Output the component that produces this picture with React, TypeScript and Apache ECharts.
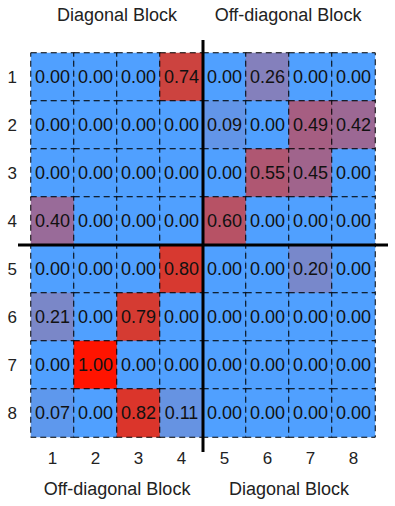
import React, { useEffect, useRef } from "react";
import * as echarts from "echarts";

const xLabels = ["1", "2", "3", "4", "5", "6", "7", "8"];
const yLabels = ["1", "2", "3", "4", "5", "6", "7", "8"];
const row1 = [0, 0, 0, 0.74, 0, 0.26, 0, 0];
const row2 = [0, 0, 0, 0, 0.09, 0, 0.49, 0.42];
const row3 = [0, 0, 0, 0, 0, 0.55, 0.45, 0];
const row4 = [0.4, 0, 0, 0, 0.6, 0, 0, 0];
const row5 = [0, 0, 0, 0.8, 0, 0, 0.2, 0];
const row6 = [0.21, 0, 0.79, 0, 0, 0, 0, 0];
const row7 = [0, 1.0, 0, 0, 0, 0, 0, 0];
const row8 = [0.07, 0, 0.82, 0.11, 0, 0, 0, 0];
const rows = [row1, row2, row3, row4, row5, row6, row7, row8];
const topTitles = ["Diagonal Block", "Off-diagonal Block"];
const bottomTitles = ["Off-diagonal Block", "Diagonal Block"];

const W = 395;
const H = 506;
const G = { left: 31, right: 20, top: 53, bottom: 69 };
const FONT = "'Liberation Sans', Arial, sans-serif";

export default function App() {
  const ref = useRef<HTMLDivElement>(null);
  useEffect(() => {
    if (!ref.current) return;
    const chart = echarts.init(ref.current, null, { renderer: "svg" });
    const data: any[] = [];
    rows.forEach((r, yi) => r.forEach((v, xi) => data.push([xi, yi, v])));
    const gw = W - G.left - G.right;
    const gh = H - G.top - G.bottom;
    const midX = G.left + gw / 2;
    const midY = G.top + gh / 2;
    const titleStyle = { fontSize: 18, fill: "#222", fontFamily: FONT, align: "center", verticalAlign: "middle" };
    chart.setOption({
      animation: false,
      grid: { left: G.left, right: G.right, top: G.top, bottom: G.bottom },
      xAxis: {
        type: "category",
        data: xLabels,
        axisLine: { show: false },
        axisTick: { show: false },
        axisLabel: { fontSize: 17, color: "#222", fontFamily: FONT, margin: 13 },
        splitLine: { show: false },
      },
      yAxis: {
        type: "category",
        data: yLabels,
        inverse: true,
        axisLine: { show: false },
        axisTick: { show: false },
        axisLabel: { fontSize: 17, color: "#222", fontFamily: FONT, margin: 14 },
        splitLine: { show: false },
      },
      visualMap: {
        show: false,
        min: 0,
        max: 1,
        dimension: 2,
        inRange: { color: ["#50a0ff", "#8282be", "#a85c80", "#cd423c", "#ff1400"] },
      },
      series: [
        {
          type: "heatmap",
          data,
          label: {
            show: true,
            formatter: (p: any) => p.value[2].toFixed(2),
            fontSize: 18,
            color: "#111",
            fontFamily: FONT,
          },
          itemStyle: {
            borderColor: "#000",
            borderWidth: 1,
            borderType: [6, 4],
          },
          emphasis: { disabled: true },
        },
      ],
      graphic: [
        {
          type: "line",
          shape: { x1: midX, y1: 40, x2: midX, y2: H - 54 },
          style: { stroke: "#000", lineWidth: 3 },
          z: 100,
        },
        {
          type: "line",
          shape: { x1: 18, y1: midY, x2: W - 7, y2: midY },
          style: { stroke: "#000", lineWidth: 3 },
          z: 100,
        },
        { type: "text", x: 117, y: 15, style: { ...titleStyle, text: topTitles[0] } },
        { type: "text", x: 288, y: 15, style: { ...titleStyle, text: topTitles[1] } },
        { type: "text", x: 117, y: 489, style: { ...titleStyle, text: bottomTitles[0] } },
        { type: "text", x: 289, y: 489, style: { ...titleStyle, text: bottomTitles[1] } },
      ],
    });
    return () => chart.dispose();
  }, []);
  return <div ref={ref} style={{ width: W, height: H, position: "absolute", left: 0, top: 0 }} />;
}
